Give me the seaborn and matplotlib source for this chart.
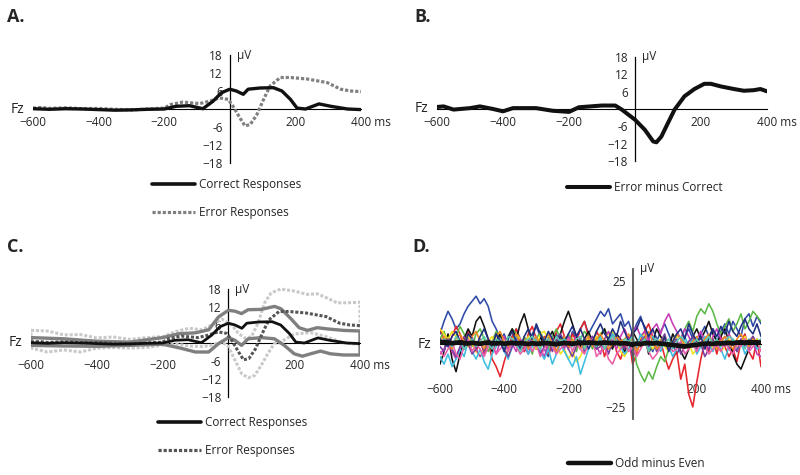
#!/usr/bin/env python3

# Import basic modules
import numpy as np
import pandas as pd
import matplotlib
matplotlib.use('Agg')
import matplotlib.pyplot as plt
from matplotlib.lines import Line2D
import seaborn as sns

# Set seaborn graph styling
sns.set_style("white")
plt.rcParams['font.family'] = ['Open Sans', 'DejaVu Sans']

# ---------------- data ----------------
# Grand average, correct responses (uV)
correct_t = [-600, -550, -500, -450, -400, -350, -300, -250, -200, -164, -123, -82, -51, -26,
             0, 20, 41, 56, 92, 133, 159, 185, 205, 231, 272, 308, 359, 400]
correct_v = [0.1, -0.1, 0.1, 0.0, -0.2, -0.4, -0.3, -0.1, 0.0, 0.9, 1.1, 0.1, 2.6, 5.4,
             6.6, 6.0, 4.9, 6.6, 7.0, 7.1, 6.0, 3.2, 0.3, 0.0, 1.7, 0.9, 0.0, -0.2]

# Grand average, error responses (uV)
error_t = [-600, -575, -550, -500, -450, -400, -350, -300, -250, -200, -180, -143, -92, -62, -31,
           -5, 10, 31, 46, 62, 82, 103, 123, 154, 185, 236, 297, 338, 369, 400]
error_v = [0.3, 0.5, 0.2, 0.4, 0.1, 0.2, -0.1, -0.3, 0.0, 0.3, 1.5, 2.3, 1.8, 2.6, 3.7,
           3.2, 0.9, -3.0, -5.6, -5.2, -2.0, 3.2, 7.7, 10.5, 10.5, 10.0, 8.8, 6.6, 6.0, 5.8]

# Difference wave, error minus correct (uV)
diff_t = [-600, -580, -550, -500, -470, -430, -400, -370, -300, -250, -200, -170, -100, -60, -40,
          0, 30, 55, 65, 80, 100, 120, 150, 180, 210, 230, 260, 300, 330, 360, 380, 400]
diff_v = [0.7, 0.9, -0.2, 0.3, 0.9, 0.0, -0.8, 0.3, 0.3, -0.6, -1.0, 0.6, 1.2, 1.2, -0.2,
          -3.7, -7.2, -11.2, -11.5, -9.5, -4.8, -0.2, 4.4, 6.9, 8.7, 8.7, 7.8, 6.9, 6.3, 6.5, 6.9, 6.1]

# Confidence bounds, correct responses
corr_hi_t = [-600, -500, -400, -300, -200, -150, -100, -60, -30, 0, 20, 40, 60, 100, 140, 160,
             190, 215, 240, 270, 300, 350, 400]
corr_hi_v = [1.8, 1.4, 0.6, 0.3, 1.8, 3.1, 3.4, 4.4, 8.7, 10.9, 10.6, 9.8, 11.1, 11.2, 12.2, 11.4,
             8.1, 5.1, 4.2, 5.1, 4.7, 4.2, 4.0]
corr_lo_t = [-600, -500, -400, -300, -200, -150, -100, -60, -30, 0, 20, 40, 60, 100, 140, 170,
             200, 225, 250, 280, 310, 350, 400]
corr_lo_v = [-0.8, -1.0, -1.1, -0.8, -0.4, -1.6, -3.0, -3.0, -0.2, 1.8, 0.9, -0.8, 1.4, 1.8, 1.4, -0.8,
             -3.6, -4.4, -3.6, -2.7, -3.6, -4.0, -4.0]

# Confidence bounds, error responses
err_hi_t = [-600, -550, -500, -450, -400, -350, -300, -250, -200, -160, -120, -80, -50, -20, 10,
            30, 50, 70, 90, 110, 130, 160, 200, 240, 270, 300, 330, 360, 400]
err_hi_v = [4.2, 4.0, 2.7, 2.8, 1.7, 2.0, 1.2, 1.8, 2.1, 3.8, 4.9, 4.4, 6.0, 8.0, 6.0,
            3.3, 1.6, 2.1, 6.6, 13.4, 16.7, 18.0, 17.3, 16.2, 16.4, 15.0, 13.4, 13.4, 13.6]
err_lo_t = [-600, -550, -500, -450, -400, -350, -300, -250, -200, -160, -120, -80, -50, -20, 0,
            20, 40, 60, 80, 100, 120, 140, 160, 200, 250, 300, 350, 400]
err_lo_v = [-1.7, -3.0, -2.3, -3.0, -1.7, -1.5, -1.7, -1.5, -0.7, -0.3, -1.0, -1.2, -0.7, 0.4, -1.2,
            -5.7, -10.2, -11.6, -10.8, -7.4, -3.5, -0.1, 0.4, 3.0, 3.5, 2.0, 0.0, -0.5]

# Odd minus even, single subjects (uV, every 12.5 ms from -600 to 400)
d_times = [-600 + 12.5 * i for i in range(81)]
d_blue = [4, 9, 13, 10, 6, 8, 12, 15, 17, 19,
          16, 18, 15, 9, 6, 2, 4, -1, 3, 6,
          2, -3, 1, 4, 7, 3, -2, -5, 1, 4,
          0, 3, -1, 5, 2, 6, 9, 4, 7, 10,
          13, 11, 14, 8, 10, 12, 7, 9, 4, 8,
          11, 6, 2, -3, 1, 5, 8, 4, 0, -4,
          -1, 3, 6, 2, -2, 4, 7, 3, 6, 1,
          5, 8, 4, 9, 6, 3, 10, 12, 7, 11, 8]
d_red = [6, 2, -1, 3, 7, 4, -2, 5, 1, -3,
         2, -4, 1, -6, -9, -13, -7, -2, 3, 6,
         1, -3, 4, 7, 2, -1, 3, -4, 0, 5,
         8, 3, -2, 4, 1, 6, 9, 3, -1, 5,
         2, -5, 0, 4, -3, -6, -1, 3, -8, -4,
         2, 5, 8, 3, -2, 1, -5, -10, -6, -3,
         -14, -8, -20, -25, -15, -6, 1, -3, 2, -4,
         3, -1, -5, -2, -7, 1, 4, -3, -6, 2, -9]
d_green = [2, 5, 1, -2, 3, 7, 4, 1, -1, 4,
           6, 2, -3, 1, 5, 3, -2, 2, 6, 4,
           -1, 3, 0, -4, 2, 5, 1, -2, 3, 6,
           2, -1, 4, 1, -3, 2, 5, 3, -2, 1,
           4, 6, 2, -1, 3, 0, -3, 1, 2, -8,
           -12, -15, -11, -14, -9, -5, -7, -2, 1, 4,
           2, 6, 9, 5, 11, 14, 12, 16, 13, 8,
           4, 7, 10, 5, 8, 12, 6, 9, 13, 11, 9]
d_black = [-8, -3, 4, -6, -11, -4, 2, 6, 3, 9,
           11, 7, 2, -3, 1, 4, -1, 3, 6, 2,
           8, 12, 6, 1, -2, 3, -1, 2, 5, 1,
           4, 9, 13, 8, 3, -1, 2, 5, 1, -2,
           3, 6, 1, -2, 4, 2, -3, 1, 5, 2,
           -1, 3, -4, 1, 6, 3, 0, -2, 4, 1,
           -3, -6, -2, 3, 6, 2, 5, 9, 4, 1,
           3, 6, 1, -4, -8, -10, -6, -2, 3, -1, 1]
d_yellow = [6, 4, 2, 5, 3, 1, -2, 3, 0, -3,
            -5, -2, 1, 3, -1, 2, 0, -3, 1, 4,
            2, -1, 3, 1, -2, 4, 5, 2, -1, 1,
            -4, -2, -6, -3, -7, -5, -1, 2, 1, 3,
            -1, 2, 4, 5, 1, -3, -5, -2, 1, -1,
            3, 4, 1, -2, 0, 2, -1, -3, 1, 3,
            2, -1, 1, -4, -2, 0, 3, 1, -2, 0,
            -3, -1, 2, 0, -2, 1, 3, -1, 0, 2, -2]
d_magenta = [-4, -2, 1, -3, -6, -2, 1, -1, 3, -2,
             -5, -3, 2, -1, -4, 1, 3, -2, 0, -3,
             2, -1, -4, 1, 3, -2, -5, 0, 2, -3,
             1, -2, 3, -1, 4, 2, -3, 1, 3, -1,
             -4, 2, 5, 1, -2, 3, 6, 2, 4, 7,
             3, 5, 1, 6, 8, 4, 9, 12, 8, 5,
             2, 6, 3, -1, 2, 5, 1, -2, 3, 6,
             2, -1, 4, 1, -3, 0, 2, -2, 1, -4, -5]
d_cyan = [-5, -8, -4, -9, -6, -2, -5, 1, -3, -6,
          -2, -7, -10, -4, -1, 2, -3, -6, -1, 3,
          -2, 1, -4, -1, 3, -3, -6, -2, -8, -4,
          0, -3, -6, -9, -5, -12, -7, -2, 1, -1,
          3, -2, 1, 4, 2, -1, -4, -2, 2, -1,
          4, 1, -2, 3, 0, -3, 2, -1, -5, -2,
          1, 3, -1, 2, -4, -1, 3, 0, -3, 1,
          -2, -6, -1, 2, -3, 1, -4, -1, 2, -2, -1]
d_purple = [-1, -3, 2, -2, -5, -1, 3, 0, -4, -2,
            1, -3, 2, -1, 4, 1, -2, -5, -1, 2,
            -3, 1, -2, 3, 0, -4, -1, 2, -3, 1,
            4, 1, -2, -5, -1, 2, -3, 1, 3, -2,
            -1, 2, -4, 1, 3, 0, -2, 2, -5, -1,
            1, 3, -1, 2, -3, 1, 4, -2, 0, 2,
            -4, -1, 1, 3, -2, 0, -5, -2, 2, -1,
            1, 3, -2, 0, -3, 2, -1, 1, 3, 0, 2]
d_orange = [1, 3, 0, -2, 2, 4, 1, -1, 3, 5,
            1, -2, 2, 0, 3, 5, 1, -1, 2, 4,
            0, 2, -2, 1, 3, -1, 2, 4, 0, -3,
            1, 3, -1, 2, 0, -2, 1, 3, -1, 2,
            4, 1, -2, 0, 3, 1, 2, 4, 1, -3,
            0, 2, 5, 1, -2, 0, 3, -1, 1, 4,
            2, 0, -2, 1, 3, -1, 2, 4, 0, -2,
            1, 3, 0, -2, 2, 4, 1, -1, 2, 0, 1]
d_pink = [-3, -5, -2, 1, -4, -6, -1, 2, -3, 0,
          -2, -5, -1, 1, -4, -2, 0, -3, 2, -1,
          -4, -2, 1, -3, 0, -5, -2, 1, -1, -4,
          -2, 0, 2, -3, 1, -2, -4, 0, 2, -5,
          -3, -1, -6, -8, -4, -2, 1, -3, -1, -5,
          -2, 1, -3, -6, -4, -1, 2, 0, -3, -2,
          1, -4, -2, 0, -3, 1, -1, -4, -2, 0,
          -3, 1, -2, -4, 0, -1, 2, -3, -1, 1, -3]
d_navy = [2, 0, -1, 3, 5, 1, -2, 4, 2, -1,
          3, 6, 2, -1, 4, 1, -3, 2, 5, 1,
          -2, 3, 6, 2, 8, 4, 1, 5, 2, -1,
          3, 1, 4, 7, 3, 6, 2, -2, 1, 5,
          8, 4, 2, 6, 3, 9, 5, 1, 4, 6,
          10, 7, 3, 6, 2, -1, 3, -3, 1, 4,
          6, 2, 8, 4, 1, 3, -2, 2, 6, 3,
          7, 4, 9, 5, 3, 7, 10, 6, 4, 8, 3]
d_teal = [0, 2, 1, -1, 3, 1, -2, 0, 2, -1,
          1, 3, 0, -2, 2, 1, -1, 3, 2, 0,
          -3, 1, 2, 3, 0, -2, 1, 2, -1, 3,
          1, 2, 0, -1, 2, 3, -2, 1, 0, -1,
          2, -2, 1, 3, 0, -1, 2, 1, 3, -1,
          0, 2, -3, 1, 2, -1, 0, 2, -2, 1,
          3, 1, -1, 0, 2, -1, 1, 3, 0, 2,
          -1, 1, 3, 2, 0, 1, -2, 2, 0, 1, 2]
d_mean = [0.5, 0.8, 0.6, 0.3, 0.5, 0.7, 0.4, 0.2, 0.5, 0.3,
          0.1, 0.4, 0.6, 0.3, 0.2, 0.4, 0.1, 0.3, 0.5, 0.2,
          0.4, 0.2, 0.0, 0.3, 0.1, 0.2, 0.4, 0.3, 0.1, 0.0,
          0.2, 0.4, 0.3, 0.1, 0.3, 0.5, 0.4, 0.6, 0.5, 0.3,
          0.4, 0.6, 0.5, 0.3, 0.4, 0.2, 0.3, 0.1, -0.3, 0.2,
          0.0, 0.3, 0.4, 0.2, 0.4, 0.1, 0.0, -0.2, -0.4, -0.6,
          -0.8, -1.0, -0.7, -0.5, -0.3, -0.1, 0.1, 0.2, 0.0, 0.3,
          0.2, 0.4, 0.5, 0.3, 0.6, 0.7, 0.5, 0.8, 0.6, 0.7, 0.5]

d_names = ['blue', 'red', 'green', 'black', 'yellow', 'magenta', 'cyan', 'purple', 'orange',
           'pink', 'navy', 'teal']
d_colors = ['#2e4aa8', '#e5262d', '#5cb946', '#111111', '#f2e21c', '#c43cb4', '#3fbde0',
            '#7a3f9e', '#f08a24', '#ec5fa8', '#1f2f80', '#5fc9b0']
d_series = [d_blue, d_red, d_green, d_black, d_yellow, d_magenta, d_cyan, d_purple, d_orange,
            d_pink, d_navy, d_teal]

x_labels = [-600, -400, -200, 200, 400]
FS = 8.5


# Put the axis cross at (0, 0) like an ERP plot
def SetupERPAxes(ax, lim, cap, yticks, ylabels, label_drop, axis_color='black', axis_lw=0.9):
    ax.set_xlim(-600, 400)
    ax.set_ylim(-lim, lim)
    ax.spines['top'].set_visible(False)
    ax.spines['right'].set_visible(False)
    for side in ['left', 'bottom']:
        ax.spines[side].set_position(('data', 0))
        ax.spines[side].set_color(axis_color)
        ax.spines[side].set_linewidth(axis_lw)
    ax.spines['left'].set_bounds(-cap, cap)
    ax.spines['bottom'].set_bounds(-600, 400)
    ax.spines['bottom'].set_color('black')
    ax.spines['bottom'].set_linewidth(0.8)
    ax.set_yticks(yticks)
    ax.set_yticklabels(ylabels)
    ax.tick_params(axis='y', direction='inout', length=8, width=axis_lw, pad=1,
                   labelsize=FS, color=axis_color)
    ax.set_xticks(x_labels)
    ax.set_xticklabels([])
    ax.tick_params(axis='x', direction='in', length=3, width=0.8)
    ax.set_xlabel('')
    ax.set_ylabel('')
    # x tick labels placed by hand below the zero line
    for t in x_labels:
        if t == 400:
            ax.annotate('400 ms', xy=(t, 0), xytext=(-7.5, -label_drop), textcoords='offset points',
                        ha='left', va='center', fontsize=FS, annotation_clip=False, zorder=1)
        else:
            ax.annotate(str(t).replace('-', '\u2212'), xy=(t, 0), xytext=(0, -label_drop),
                        textcoords='offset points', ha='center', va='center', fontsize=FS,
                        annotation_clip=False, zorder=1)
    ax.annotate('Fz', xy=(-600, 0), xytext=(-6, 0), textcoords='offset points', ha='right',
                va='center', fontsize=10, annotation_clip=False)
    ax.annotate('\u00b5V', xy=(0, cap), xytext=(5, 0), textcoords='offset points', ha='left',
                va='center', fontsize=FS, annotation_clip=False)
    ax.patch.set_visible(False)


def AddLegend(fig, ax, handles, x_px, y_px):
    ax.legend(handles=handles, loc='upper left', bbox_to_anchor=(x_px / 800, 1 - y_px / 475),
              bbox_transform=fig.transFigure, frameon=False, handlelength=3.6, handletextpad=0.35,
              labelspacing=1.25, fontsize=FS, borderpad=0, borderaxespad=0)


def Outline(t_hi, v_hi, t_lo, v_lo):
    # closed outline of a confidence band (upper edge, then lower edge backwards)
    t = list(t_hi) + list(t_lo[::-1]) + [t_hi[0]]
    v = list(v_hi) + list(v_lo[::-1]) + [v_hi[0]]
    return t, v


fig = plt.figure(figsize=(8, 4.75), dpi=100)
dot = (0, (1.0, 0.6))
uv18 = [-18, -12, -6, 6, 12, 18]
uv18_lab = ['\u221218', '\u221212', '-6', '6', '12', '18']

# Panel A
axA = fig.add_axes([33 / 800, 1 - 166 / 475, 328 / 800, 114 / 475])
sns.lineplot(x=error_t, y=error_v, ax=axA, color='#808080', lw=2.3, linestyle=dot, estimator=None)
sns.lineplot(x=correct_t, y=correct_v, ax=axA, color='#111111', lw=2.4, estimator=None)
SetupERPAxes(axA, 19, 18, uv18, uv18_lab, 10)
for s in axA.spines.values():
    s.set_zorder(1)
AddLegend(fig, axA, [Line2D([], [], color='#111111', lw=2.6, label='Correct Responses'),
                     Line2D([], [], color='#808080', lw=2.3, linestyle=dot, label='Error Responses')],
          152, 178)

# Panel B
axB = fig.add_axes([437 / 800, 1 - 164 / 475, 330 / 800, 110 / 475])
sns.lineplot(x=diff_t, y=diff_v, ax=axB, color='#111111', lw=2.9, estimator=None)
SetupERPAxes(axB, 19, 18, uv18, uv18_lab, 10)
for s in axB.spines.values():
    s.set_zorder(1)
AddLegend(fig, axB, [Line2D([], [], color='#111111', lw=2.9, label='Error minus Correct')], 567, 181)

# Panel C
axC = fig.add_axes([31 / 800, 1 - 400 / 475, 329 / 800, 114 / 475])
t_band, v_band = Outline(err_hi_t, err_hi_v, err_lo_t, err_lo_v)
sns.lineplot(x=t_band, y=v_band, ax=axC, color='#c9c9c9', lw=2.2, linestyle=dot, sort=False,
             estimator=None)
t_band, v_band = Outline(corr_hi_t, corr_hi_v, corr_lo_t, corr_lo_v)
sns.lineplot(x=t_band, y=v_band, ax=axC, color='#7f7f7f', lw=2.4, sort=False, estimator=None)
sns.lineplot(x=error_t, y=error_v, ax=axC, color='#555555', lw=2.2, linestyle=dot, estimator=None)
sns.lineplot(x=correct_t, y=correct_v, ax=axC, color='#111111', lw=2.0, estimator=None)
SetupERPAxes(axC, 19, 18, uv18, uv18_lab, 16)
for s in axC.spines.values():
    s.set_zorder(1)
AddLegend(fig, axC, [Line2D([], [], color='#111111', lw=2.6, label='Correct Responses'),
                     Line2D([], [], color='#555555', lw=2.3, linestyle=dot, label='Error Responses')],
          158, 416)

# Panel D
df_d = pd.DataFrame({
    'time': d_times * len(d_series),
    'uV': [v for s in d_series for v in s],
    'subject': [n for n in d_names for _ in d_times],
})
axD = fig.add_axes([440 / 800, 1 - 422 / 475, 321 / 800, 156 / 475])
sns.lineplot(data=df_d, x='time', y='uV', hue='subject', palette=d_colors, lw=1.15,
             estimator=None, legend=False, ax=axD)
sns.lineplot(x=d_times, y=d_mean, ax=axD, color='#111111', lw=3.4, estimator=None, zorder=3)
SetupERPAxes(axD, 31, 30, [-30, -25, 25, 30], ['', '\u221225', '25', ''], 33,
             axis_color='#555555', axis_lw=1.3)
AddLegend(fig, axD, [Line2D([], [], color='#111111', lw=3.2, label='Odd minus Even')], 568, 457)

# Panel letters
for lab, x_px, y_px in [('A.', 7, 17), ('B.', 414, 17), ('C.', 7, 247), ('D.', 412, 247)]:
    fig.text(x_px / 800, 1 - y_px / 475, lab, fontsize=13, fontweight='bold', va='center',
             ha='left')

fig.savefig('out.png', dpi=100)
